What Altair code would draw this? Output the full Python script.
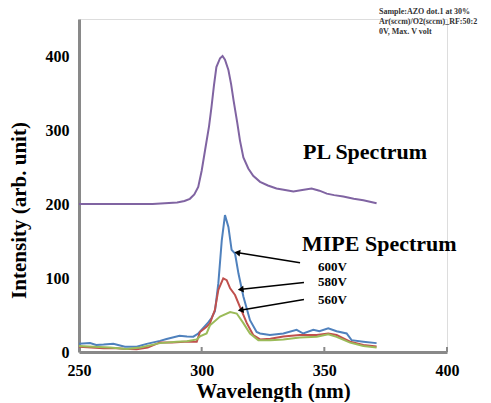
import altair as alt
import pandas as pd
import numpy as np

# PL spectrum
pl_nm = [250, 260, 270, 280, 285, 290, 293, 295.2, 297, 298.6, 300, 301.4, 303, 304, 305, 306, 307.5, 308.5,
         309.5, 310.9, 312, 313, 314.5, 315.6, 317, 319, 321, 323.8, 327, 330.5, 334, 337.4, 341, 344.8, 348,
         351, 354, 357.7, 362, 365.9, 371.3]
pl_val = [200, 200, 200, 200, 201, 202, 204, 207, 213, 223, 245, 273, 305, 331, 360, 385, 397, 400,
          395, 381, 362, 340, 310, 286, 263, 248, 238, 230, 225, 221, 219, 217, 219, 221, 218,
          214, 212, 210, 207, 205, 201]

# MIPE 600V
b_nm = [250, 254.5, 257, 260, 264, 268.7, 273.5, 277.6, 283, 285.7, 291, 294, 296.6, 298.6, 300, 302.7, 304,
        305.4, 306.8, 308.2, 309.5, 310.9, 312.2, 313.6, 315, 317, 319.7, 322.4, 323.8, 327.8, 333.3, 338.7,
        341.4, 345.5, 348, 351.6, 355, 359.1, 361.1, 365.9, 371.3]
b_val = [11, 12, 9.5, 10, 11, 7, 7, 11, 15, 17.5, 22, 21, 20.7, 25, 30, 40, 46,
         55, 93, 151, 185, 169, 138, 133, 106, 75, 43, 27, 25, 23, 25, 30,
         25, 30, 28, 32, 28, 25, 16, 14, 12]

# MIPE 580V
r_nm = [250, 255, 260, 264, 268, 273.5, 278, 283, 288, 293, 298, 299.3, 302, 303.4, 305.4, 306.8, 308.8, 310.2,
        311.6, 313.6, 315.6, 318.4, 321, 323.8, 328, 333.3, 340, 346.9, 351.6, 355, 360.5, 365.9, 371.3]
r_val = [7, 6, 5, 5.5, 4.5, 3.6, 6, 13, 13, 14, 14, 27, 34, 39, 57, 84, 99.5, 97,
         86, 77, 61, 39, 23, 17, 18, 21, 23, 23, 25, 23, 14, 9.5, 7.5]

# MIPE 560V
g_nm = [250, 256, 262.6, 269.4, 275, 283, 289.8, 294, 298, 299.3, 302, 303.4, 307.5, 311.6, 314.3, 317, 319.7,
        323.1, 328, 333.3, 340, 346.9, 351.6, 355, 360.5, 365.9, 371.3]
g_val = [8, 7, 6, 4, 6, 12, 14, 14.5, 17, 21, 25, 36, 48, 54, 52, 39, 25,
         16, 16, 17, 19.5, 20.5, 24, 20.5, 12.6, 8, 6]

x_ticks = [250, 300, 350, 400]
y_ticks = [0, 100, 200, 300, 400]

W, H = 368, 333
FONT = "Liberation Serif"

xs = alt.Scale(domain=[250, 400], nice=False)
ys = alt.Scale(domain=[0, 450], nice=False)


def line(nm, val, color):
    df = pd.DataFrame({"nm": nm, "v": val})
    return alt.Chart(df).mark_line(color=color, strokeWidth=2, clip=True).encode(
        x=alt.X("nm:Q", scale=xs,
                axis=alt.Axis(values=x_ticks, title="Wavelength (nm)", grid=False, tickSize=0,
                              domainColor="#898989", domainWidth=3, labelPadding=10, labelFlush=False,
                              labelFont=FONT, labelFontWeight="bold", labelFontSize=16, labelColor="black",
                              titleFont=FONT, titleFontWeight="bold", titleFontSize=21, titleColor="black",
                              titleBaseline="alphabetic", titleX=194, titleY=45)),
        y=alt.Y("v:Q", scale=ys,
                axis=alt.Axis(values=y_ticks, title="Intensity (arb. unit)", grid=False, tickSize=0,
                              domainColor="#898989", domainWidth=3, labelPadding=10, labelFlush=False,
                              labelFont=FONT, labelFontWeight="bold", labelFontSize=16, labelColor="black",
                              titleFont=FONT, titleFontWeight="bold", titleFontSize=21, titleColor="black",
                              titleX=-50, titleY=191)),
    )


layers = [
    line(pl_nm, pl_val, "#8064A2"),
    line(b_nm, b_val, "#4F81BD"),
    line(r_nm, r_val, "#C0504D"),
    line(g_nm, g_val, "#9BBB59"),
]

# inward x ticks
tick_df = pd.DataFrame({"t": x_ticks[1:]})
ticks = alt.Chart(tick_df).mark_rule(color="#898989", strokeWidth=2).encode(
    x=alt.X("t:Q", scale=xs), y=alt.value(H), y2=alt.value(H - 5))

# big labels
big_df = pd.DataFrame({"x": [341.3, 340.9], "y": [270, 146], "t": ["PL Spectrum", "MIPE Spectrum"]})
big = alt.Chart(big_df).mark_text(font=FONT, fontWeight="bold", fontSize=22, align="left",
                                  baseline="middle", color="black").encode(
    x=alt.X("x:Q", scale=xs), y=alt.Y("y:Q", scale=ys), text="t:N")

volt_df = pd.DataFrame({"x": [347.4, 347.4, 347.4], "y": [115.3, 94.6, 70.3], "t": ["600V", "580V", "560V"]})
volts = alt.Chart(volt_df).mark_text(font=FONT, fontWeight="bold", fontSize=13, align="left",
                                     baseline="middle", color="black").encode(
    x=alt.X("x:Q", scale=xs), y=alt.Y("y:Q", scale=ys), text="t:N")

# arrows
arr_df = pd.DataFrame({
    "x1": [340.1, 341.7, 341.7], "y1": [120.7, 94, 71],
    "x2": [314.9, 316.3, 316.3], "y2": [134, 84.7, 56.8],
})
xpx = W / 150.0
ypx = H / 450.0
arr_df["ang"] = [float((np.degrees(np.arctan2((a - b) * xpx, (d - c) * ypx))) % 360)
                 for a, b, c, d in zip(arr_df.x2, arr_df.x1, arr_df.y1, arr_df.y2)]
shafts = alt.Chart(arr_df).mark_rule(color="black", strokeWidth=1.5).encode(
    x=alt.X("x1:Q", scale=xs), y=alt.Y("y1:Q", scale=ys), x2="x2:Q", y2="y2:Q")
heads = alt.Chart(arr_df).mark_point(shape="triangle", filled=True, color="black", size=45, opacity=1).encode(
    x=alt.X("x2:Q", scale=xs), y=alt.Y("y2:Q", scale=ys), angle=alt.Angle("ang:Q", scale=None))

note = alt.Chart(pd.DataFrame({"a": [0]})).mark_text(
    font=FONT, fontWeight="bold", fontSize=8, align="left", baseline="middle", color="#333333",
    lineHeight=10,
    text=["Sample:AZO dot.1 at 30%", "Ar(sccm)/O2(sccm)_RF:50:2", "0V, Max. V volt"]).encode(
    x=alt.value(300), y=alt.value(-7))

chart = alt.layer(*layers, ticks, shafts, heads, big, volts, note).properties(
    width=W, height=H,
    autosize=alt.AutoSizeParams(type="none"),
    padding={"left": 71, "top": 11, "right": 36, "bottom": 50},
).configure_view(stroke=None).configure(background="white")

chart.save("out.html", embed_options={"renderer": "svg", "actions": False})
